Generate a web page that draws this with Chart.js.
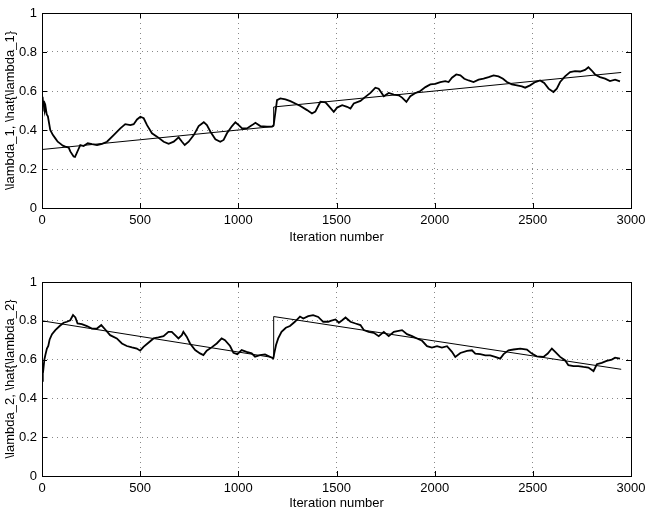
<!DOCTYPE html>
<html>
<head>
<meta charset="utf-8">
<script src="https://cdn.jsdelivr.net/npm/chart.js@4/dist/chart.umd.min.js"></script>
<style>
  html, body { margin: 0; padding: 0; background: #fff; }
  #wrap { position: relative; width: 651px; height: 512px; }
  .cv { position: absolute; left: 0; width: 651px; height: 256px; }
</style>
</head>
<body>
<div id="wrap">
  <div class="cv" style="top:0"><canvas id="c1" width="651" height="256"></canvas></div>
  <div class="cv" style="top:256px"><canvas id="c2" width="651" height="256"></canvas></div>
</div>
<script>
// ---- data ----
const xTicks = [0, 500, 1000, 1500, 2000, 2500, 3000];
const yTicks = [0, 0.2, 0.4, 0.6, 0.8, 1];
const xTickLabels = ['0', '500', '1000', '1500', '2000', '2500', '3000'];
const yTickLabels = ['0', '0.2', '0.4', '0.6', '0.8', '1'];
const xTitle = 'Iteration number';
const yTitle1 = '\\lambda_1, \\hat{\\lambda_1}';
const yTitle2 = '\\lambda_2, \\hat{\\lambda_2}';

const trueIter = [0, 1180, 1180, 2950];
const lam1True = [0.30, 0.418, 0.518, 0.695];
const lam2True = [0.80, 0.61, 0.822, 0.55];

const iter1 = [0,3,6,10,14,18,24,30,42,55,68,80,93,106,119,136,144,161,168,175,185,195,212,233,255,280,306,331,365,399,424,450,467,484,501,518,535,560,586,620,645,671,696,713,727,747,773,798,824,840,858,883,908,925,942,968,985,1002,1019,1044,1070,1087,1112,1146,1172,1180,1190,1197,1214,1240,1265,1290,1316,1350,1375,1392,1418,1444,1461,1486,1503,1529,1554,1571,1588,1622,1647,1673,1698,1715,1741,1766,1792,1817,1834,1856,1876,1902,1927,1953,1978,2003,2029,2054,2071,2088,2110,2131,2151,2173,2198,2224,2249,2275,2300,2325,2348,2368,2393,2419,2444,2461,2486,2512,2537,2558,2580,2605,2622,2639,2664,2690,2715,2741,2766,2783,2800,2817,2842,2868,2893,2919,2944];
const lam1Hat = [0.50,0.57,0.53,0.55,0.50,0.52,0.48,0.47,0.40,0.375,0.357,0.34,0.33,0.32,0.315,0.31,0.29,0.264,0.262,0.277,0.30,0.323,0.318,0.332,0.327,0.323,0.329,0.34,0.374,0.408,0.43,0.425,0.43,0.454,0.468,0.46,0.425,0.383,0.366,0.34,0.329,0.34,0.362,0.34,0.323,0.34,0.374,0.42,0.44,0.425,0.391,0.352,0.34,0.349,0.383,0.42,0.44,0.425,0.408,0.408,0.425,0.437,0.42,0.417,0.417,0.425,0.50,0.553,0.562,0.557,0.548,0.536,0.523,0.502,0.485,0.494,0.545,0.542,0.522,0.493,0.515,0.527,0.519,0.51,0.536,0.549,0.57,0.59,0.617,0.612,0.573,0.59,0.581,0.578,0.566,0.544,0.573,0.59,0.6,0.62,0.634,0.637,0.646,0.651,0.646,0.668,0.685,0.68,0.663,0.654,0.646,0.658,0.663,0.671,0.68,0.675,0.663,0.646,0.634,0.629,0.624,0.617,0.629,0.646,0.654,0.641,0.612,0.595,0.612,0.646,0.675,0.697,0.702,0.70,0.708,0.722,0.705,0.685,0.671,0.663,0.651,0.658,0.649];

const iter2 = [0,3,5,8,12,17,25,32,39,51,68,90,110,127,144,158,170,181,203,229,254,280,302,322,347,381,407,432,458,483,500,517,542,568,593,619,644,661,678,695,712,720,737,754,780,805,822,839,864,890,915,932,958,975,995,1017,1042,1068,1085,1110,1136,1161,1178,1183,1192,1203,1220,1242,1263,1288,1314,1331,1356,1381,1407,1432,1458,1470,1495,1512,1529,1546,1571,1597,1622,1639,1664,1690,1715,1741,1766,1792,1834,1859,1885,1910,1936,1961,1986,2012,2037,2063,2088,2105,2131,2165,2190,2207,2232,2258,2283,2308,2334,2351,2376,2402,2436,2470,2495,2520,2554,2576,2597,2614,2639,2664,2681,2707,2732,2758,2783,2809,2826,2851,2876,2902,2919,2944];
const lam2Hat = [0.49,0.51,0.58,0.56,0.60,0.623,0.657,0.67,0.704,0.731,0.752,0.773,0.79,0.795,0.803,0.83,0.817,0.786,0.783,0.773,0.76,0.76,0.778,0.755,0.726,0.709,0.683,0.67,0.663,0.657,0.646,0.666,0.687,0.709,0.714,0.721,0.743,0.743,0.726,0.709,0.726,0.743,0.718,0.683,0.649,0.632,0.623,0.646,0.663,0.683,0.709,0.70,0.67,0.635,0.628,0.649,0.64,0.632,0.615,0.623,0.627,0.615,0.606,0.632,0.675,0.709,0.743,0.764,0.773,0.795,0.822,0.812,0.824,0.829,0.82,0.795,0.795,0.80,0.807,0.79,0.803,0.817,0.795,0.786,0.778,0.752,0.743,0.738,0.721,0.743,0.721,0.743,0.752,0.731,0.721,0.709,0.697,0.669,0.662,0.669,0.662,0.669,0.64,0.614,0.634,0.645,0.648,0.631,0.628,0.622,0.622,0.614,0.605,0.628,0.648,0.652,0.657,0.652,0.631,0.617,0.614,0.631,0.657,0.64,0.614,0.597,0.571,0.566,0.566,0.562,0.559,0.541,0.576,0.583,0.593,0.60,0.61,0.605];

// ---- helpers ----
const FONT = { family: "'Liberation Sans', Arial, Helvetica, sans-serif", size: 13 };
const pts = (xs, ys) => xs.map((x, i) => ({ x: x, y: ys[i] }));

const frameTicks = {
  id: 'frameTicks',
  afterDatasetsDraw(chart) {
    const { ctx, chartArea: a, scales } = chart;
    const L = 5;
    ctx.save();
    ctx.strokeStyle = '#000';
    ctx.lineWidth = 1;
    ctx.beginPath();
    scales.x.ticks.forEach((t, i) => {
      const px = Math.round(scales.x.getPixelForTick(i)) + 0.5;
      ctx.moveTo(px, a.bottom); ctx.lineTo(px, a.bottom - L);
      ctx.moveTo(px, a.top); ctx.lineTo(px, a.top + L);
    });
    scales.y.ticks.forEach((t, i) => {
      const py = Math.round(scales.y.getPixelForTick(i)) + 0.5;
      ctx.moveTo(a.left, py); ctx.lineTo(a.left + L, py);
      ctx.moveTo(a.right, py); ctx.lineTo(a.right - L, py);
    });
    ctx.stroke();
    ctx.strokeRect(Math.round(a.left) + 0.5, Math.round(a.top) + 0.5,
                   Math.round(a.right - a.left), Math.round(a.bottom - a.top));
    ctx.restore();
  }
};

function makeChart(id, hat, hatIter, truth, yTitle, pad, xH, titlePadB) {
  return new Chart(document.getElementById(id), {
    type: 'line',
    data: {
      datasets: [
        { data: pts(trueIter, truth), borderColor: '#000', borderWidth: 1, pointRadius: 0, tension: 0 },
        { data: pts(hatIter, hat), borderColor: '#000', borderWidth: 1.8, pointRadius: 0, tension: 0 }
      ]
    },
    options: {
      responsive: false,
      animation: false,
      events: [],
      layout: { padding: pad },
      plugins: { legend: { display: false }, tooltip: { enabled: false } },
      scales: {
        x: {
          type: 'linear', min: 0, max: 3000,
          afterBuildTicks: s => { s.ticks = xTicks.map(v => ({ value: v })); },
          afterFit: s => { s.height = xH; },
          ticks: { font: FONT, color: '#000', padding: 5, maxRotation: 0,
                   callback: (v, i) => xTickLabels[i] },
          grid: { color: '#888', drawTicks: false, lineWidth: 1 },
          border: { display: false, dash: [1, 4] },
          title: { display: true, text: xTitle, font: FONT, color: '#000', padding: { top: 0, bottom: titlePadB } }
        },
        y: {
          type: 'linear', min: 0, max: 1,
          afterBuildTicks: s => { s.ticks = yTicks.map(v => ({ value: v })); },
          afterFit: s => { s.width = 42; },
          ticks: { font: FONT, color: '#000', padding: 5,
                   callback: (v, i) => yTickLabels[i] },
          grid: { color: '#888', drawTicks: false, lineWidth: 1 },
          border: { display: false, dash: [1, 4] },
          title: { display: true, text: yTitle, font: FONT, color: '#000', padding: { top: 3, bottom: 0 } }
        }
      }
    },
    plugins: [frameTicks]
  });
}

makeChart('c1', lam1Hat, iter1, lam1True, yTitle1, { left: 0, right: 20, top: 13, bottom: 0 }, 48, 11);
makeChart('c2', lam2Hat, iter2, lam2True, yTitle2, { left: 0, right: 20, top: 26, bottom: 0 }, 36, 1);
</script>
</body>
</html>
